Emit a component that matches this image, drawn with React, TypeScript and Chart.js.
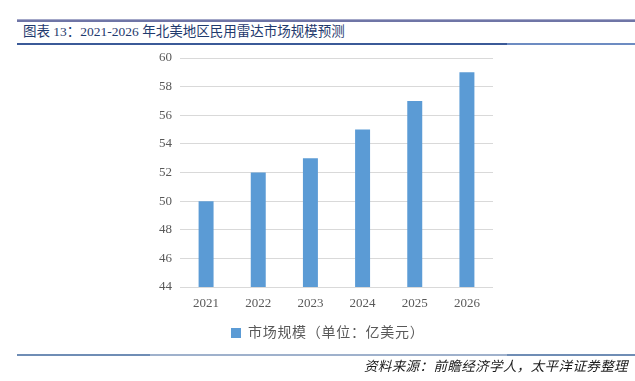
import React, { useEffect, useRef } from "react";
import { Chart, registerables } from "chart.js";

Chart.register(...registerables);

const categories = ["2021", "2022", "2023", "2024", "2025", "2026"];
const marketSize = [50, 52, 53, 55, 57, 59];
const seriesLabel = "市场规模（单位：亿美元）";
const titleText = "图表 13：2021-2026 年北美地区民用雷达市场规模预测";
const sourceText = "资料来源：前瞻经济学人，太平洋证券整理";
const yMin = 44;
const yMax = 60;
const yStep = 2;

const BAR_COLOR = "#5B9BD5";
const serif = '"Liberation Serif", "Noto Sans CJK SC", serif';

export default function App() {
  const canvasRef = useRef<HTMLCanvasElement | null>(null);

  useEffect(() => {
    const canvas = canvasRef.current;
    if (!canvas) return;
    const chart = new Chart(canvas, {
      type: "bar",
      data: {
        labels: categories,
        datasets: [
          {
            label: seriesLabel,
            data: marketSize,
            backgroundColor: BAR_COLOR,
            borderWidth: 0,
            barPercentage: 0.287,
            categoryPercentage: 1,
          },
        ],
      },
      options: {
        responsive: false,
        animation: false,
        devicePixelRatio: 1,
        layout: { padding: { left: 130, right: 142, top: 58, bottom: 64 } },
        plugins: {
          legend: { display: false },
          tooltip: { enabled: false },
          title: { display: false },
        },
        scales: {
          x: {
            grid: { display: false, drawTicks: false },
            border: { display: false },
            ticks: {
              color: "#595959",
              font: { family: serif, size: 13 },
              padding: 9,
            },
            afterFit: (s: any) => {
              s.height = 30;
            },
          },
          y: {
            min: yMin,
            max: yMax,
            grid: { color: "#d9d9d9", lineWidth: 1, drawTicks: false },
            border: { display: false },
            ticks: {
              stepSize: yStep,
              color: "#595959",
              font: { family: serif, size: 13 },
              padding: 8,
            },
            afterFit: (s: any) => {
              s.width = 50;
            },
          },
        },
      },
    });
    return () => chart.destroy();
  }, []);

  const line = (top: number, left: number, width: number, height: number, color: string) => (
    <div
      style={{
        position: "absolute",
        top,
        left,
        width,
        height,
        background: color,
      }}
    />
  );

  return (
    <div
      style={{
        position: "absolute",
        left: 0,
        top: 0,
        width: 635,
        height: 381,
        background: "#ffffff",
        overflow: "hidden",
      }}
    >
      {line(19, 17, 618, 1, "#a3a7c8")}
      {line(20, 17, 618, 2, "#6f75a6")}
      <div
        style={{
          position: "absolute",
          left: 23,
          top: 22,
          height: 20,
          lineHeight: "20px",
          fontFamily: serif,
          fontSize: 13.5,
          color: "#1f3a6e",
          whiteSpace: "nowrap",
        }}
      >
        {titleText}
      </div>
      {line(43, 17, 490, 2, "#3b5a98")}
      {line(43, 507, 128, 2, "#6d8cc2")}
      <canvas
        ref={canvasRef}
        width={635}
        height={381}
        style={{ position: "absolute", left: 0, top: 0, width: 635, height: 381 }}
      />
      <div
        style={{
          position: "absolute",
          left: 231,
          top: 328,
          width: 10,
          height: 10,
          background: BAR_COLOR,
        }}
      />
      <div
        style={{
          position: "absolute",
          left: 248,
          top: 323,
          height: 20,
          lineHeight: "20px",
          fontFamily: serif,
          fontSize: 14,
          color: "#595959",
          whiteSpace: "nowrap",
          letterSpacing: 0.7,
        }}
      >
        {seriesLabel}
      </div>
      {line(354, 17, 133, 2, "#6f8db5")}
      {line(354, 150, 357, 2, "#9fb1cc")}
      {line(354, 507, 128, 2, "#6f8db5")}
      <div
        style={{
          position: "absolute",
          right: 7,
          top: 357,
          height: 20,
          lineHeight: "20px",
          fontFamily: serif,
          fontSize: 13.5,
          fontStyle: "italic",
          color: "#1a1a1a",
          whiteSpace: "nowrap",
          letterSpacing: 0.4,
        }}
      >
        {sourceText}
      </div>
    </div>
  );
}
